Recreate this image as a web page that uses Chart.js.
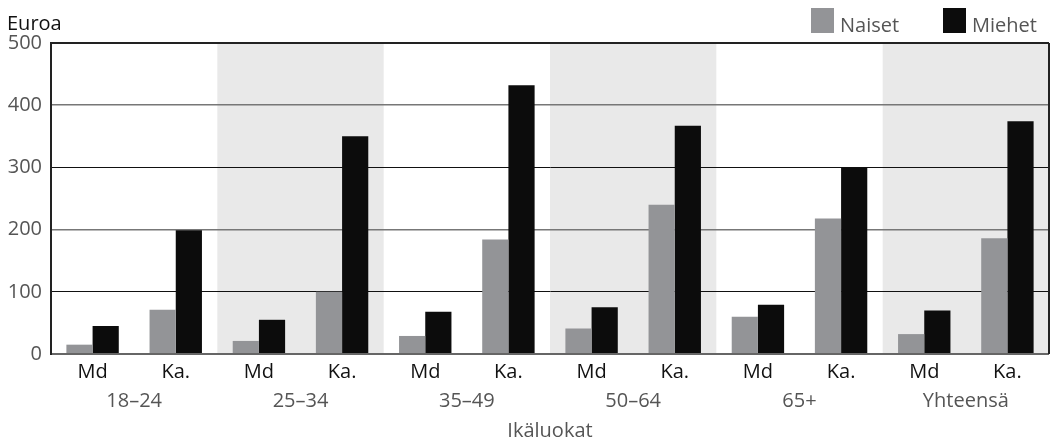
<!DOCTYPE html>
<html>
<head>
<meta charset="utf-8">
<script src="https://cdn.jsdelivr.net/npm/chart.js@4/dist/chart.umd.min.js"></script>
<style>
  body { margin: 0; background: #fff; }
  #wrap { width: 1053px; height: 445px; position: relative; }
</style>
</head>
<body>
<div id="wrap"><canvas id="chart"></canvas></div>
<script>
const categories = ["Md", "Ka.", "Md", "Ka.", "Md", "Ka.", "Md", "Ka.", "Md", "Ka.", "Md", "Ka."];
const groups = ["18–24", "25–34", "35–49", "50–64", "65+", "Yhteensä"];
const naiset = [15, 71, 21, 100, 29, 184, 41, 240, 60, 218, 32, 186];
const miehet = [45, 199, 55, 350, 68, 432, 75, 367, 79, 300, 70, 374];
const yTicks = [0, 100, 200, 300, 400, 500];

const FONT = "'Open Sans', 'Noto Sans', sans-serif";

// shaded bands behind every second age group, frame, unit label and legend
const extrasPlugin = {
  id: 'extras',
  beforeDraw(chart) {
    const ctx = chart.ctx;
    const area = chart.chartArea;
    const x2 = chart.scales.x2;
    const slot = (area.right - area.left) / groups.length;
    ctx.save();
    ctx.fillStyle = '#e9e9e9';
    groups.forEach((g, i) => {
      if (i % 2 === 1) {
        const c = x2.getPixelForValue(i);
        ctx.fillRect(c - slot / 2, area.top, slot, area.bottom - area.top);
      }
    });
    ctx.restore();
  },
  afterDraw(chart) {
    const ctx = chart.ctx;
    const area = chart.chartArea;
    ctx.save();
    ctx.strokeStyle = '#222';
    ctx.lineWidth = 2;
    ctx.beginPath();
    ctx.moveTo(area.right, area.top);
    ctx.lineTo(area.right, area.bottom);
    ctx.stroke();

    ctx.font = '20px ' + FONT;
    ctx.textBaseline = 'alphabetic';
    ctx.fillStyle = '#111';
    ctx.fillText('Euroa', 7, 30);

    // legend, right aligned
    const boxX = [811, 943];
    chart.data.datasets.forEach((ds, i) => {
      ctx.fillStyle = ds.backgroundColor;
      ctx.fillRect(boxX[i], 8, 23, 25);
      ctx.fillStyle = '#555';
      ctx.fillText(ds.label, boxX[i] + 29, 32);
    });
    ctx.restore();
  }
};

new Chart(document.getElementById('chart'), {
  type: 'bar',
  data: {
    labels: categories,
    datasets: [{
      label: 'Naiset',
      data: naiset,
      backgroundColor: '#939497',
      borderWidth: 0,
      categoryPercentage: 0.63,
      barPercentage: 1
    }, {
      label: 'Miehet',
      data: miehet,
      backgroundColor: '#0c0c0c',
      borderWidth: 0,
      categoryPercentage: 0.63,
      barPercentage: 1
    }]
  },
  options: {
    responsive: true,
    maintainAspectRatio: false,
    animation: false,
    layout: { padding: { left: 0, right: 4, top: 43, bottom: 0 } },
    plugins: {
      legend: { display: false },
      tooltip: { enabled: false }
    },
    scales: {
      x: {
        weight: 0,
        grid: { display: false, drawTicks: false },
        border: { display: false },
        ticks: { color: '#111', padding: 11, font: { family: FONT, size: 20, lineHeight: 0.7 } }
      },
      x2: {
        type: 'category',
        position: 'bottom',
        weight: 1,
        labels: groups,
        offset: true,
        grid: { display: false, drawTicks: false },
        border: { display: false },
        ticks: { color: '#555', padding: 1, font: { family: FONT, size: 20, lineHeight: 1 } },
        title: { display: true, text: 'Ikäluokat', color: '#555', padding: { top: 9, bottom: 4 }, font: { family: FONT, size: 20, lineHeight: 1 } }
      },
      y: {
        min: 0,
        max: 500,
        afterBuildTicks(scale) { scale.ticks = yTicks.map(v => ({ value: v })); },
        afterFit(scale) { scale.width = 51; },
        border: { display: true, color: '#222', width: 2 },
        grid: {
          drawTicks: false,
          color: ctx => {
            const v = ctx.tick.value;
            if (v === 0) return '#666';
            if (v === 500) return '#222';
            return v % 200 === 0 ? '#777' : '#111';
          },
          lineWidth: ctx => (ctx.tick.value === 0 || ctx.tick.value === 500) ? 2 : (ctx.tick.value % 200 === 0 ? 1.5 : 1)
        },
        ticks: { color: '#555', padding: 9, font: { family: FONT, size: 20 } }
      }
    }
  },
  plugins: [extrasPlugin]
});
</script>
</body>
</html>
